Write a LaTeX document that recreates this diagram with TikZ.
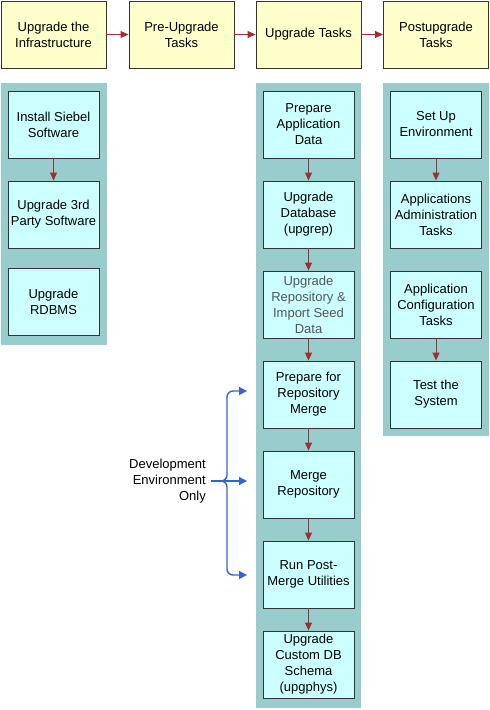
\documentclass[tikz,border=0pt]{standalone}
\usepackage{fontspec}
\setmainfont{Liberation Sans}
\usetikzlibrary{arrows.meta,calc}
\definecolor{hdrfill}{HTML}{FFFFCC}
\definecolor{panelfill}{HTML}{99CCCC}
\definecolor{taskfill}{HTML}{CCFFFF}
\definecolor{edgecol}{HTML}{333333}
\definecolor{arrowcol}{HTML}{993333}
\definecolor{bracecol}{HTML}{3366CC}
\definecolor{greytext}{HTML}{555555}
\tikzset{
  hdr/.style={draw=edgecol, fill=hdrfill, line width=0.9pt, minimum width=105pt, minimum height=67pt, inner sep=0pt, align=center, font=\fontsize{13}{16}\selectfont},
  panel/.style={fill=panelfill, draw=none},
  task/.style={draw=edgecol, fill=taskfill, line width=0.9pt, minimum width=91pt, minimum height=67pt, inner sep=0pt, align=center, font=\fontsize{13}{16}\selectfont},
  flow/.style={draw=arrowcol, line width=1pt, -{Triangle[length=8pt,width=7pt]}},
  bl/.style={draw=bracecol, line width=1.4pt},
  blarrow/.style={bl, -{Triangle[length=8pt,width=8pt]}}
}
\begin{document}
\begin{tikzpicture}[x=1pt,y=-1pt]
\useasboundingbox (0,0) rectangle (490,710);
% panels
\fill[panel] (1,83) rectangle (107,345);
\fill[panel] (256,83) rectangle (361,708);
\fill[panel] (383,83) rectangle (489,436);
% header boxes
\node[hdr] (h1) at (53.5,34.5) {Upgrade the\\Infrastructure};
\node[hdr] (h2) at (181.5,34.5) {Pre-Upgrade\\Tasks};
\node[hdr] (h3) at (308.5,34.5) {Upgrade Tasks};
\node[hdr] (h4) at (436,34.5) {Postupgrade\\Tasks};
\draw[flow] (h1) -- (h2);
\draw[flow] (h2) -- (h3);
\draw[flow] (h3) -- (h4);
% left column
\node[task] (l1) at (53.5,124.5) {Install Siebel\\Software};
\node[task] (l2) at (53.5,214.5) {Upgrade 3rd\\Party Software};
\node[task] (l3) at (53.5,302) {Upgrade\\RDBMS};
\draw[flow] (l1) -- (l2);
% middle column
\node[task] (m1) at (308.5,124.5) {Prepare\\Application\\Data};
\node[task] (m2) at (308.5,214.5) {Upgrade\\Database\\(upgrep)};
\node[task, text=greytext] (m3) at (308.5,304.5) {Upgrade\\Repository \&\\Import Seed\\Data};
\node[task] (m4) at (308.5,394.5) {Prepare for\\Repository\\Merge};
\node[task] (m5) at (308.5,484.5) {Merge\\Repository};
\node[task] (m6) at (308.5,574.5) {Run Post-\\Merge Utilities};
\node[task] (m7) at (308.5,664.5) {Upgrade\\Custom DB\\Schema\\(upgphys)};
\draw[flow] (m1) -- (m2);
\draw[flow] (m2) -- (m3);
\draw[flow] (m3) -- (m4);
\draw[flow] (m4) -- (m5);
\draw[flow] (m5) -- (m6);
\draw[flow] (m6) -- (m7);
% right column
\node[task] (r1) at (436,124.5) {Set Up\\Environment};
\node[task] (r2) at (436,214.5) {Applications\\Administration\\Tasks};
\node[task] (r3) at (436,304.5) {Application\\Configuration\\Tasks};
\node[task] (r4) at (436,394.5) {Test the\\System};
\draw[flow] (r1) -- (r2);
\draw[flow] (r3) -- (r4);
% brace
\node[anchor=east, align=right, inner sep=0pt, font=\fontsize{13}{16}\selectfont] (dev) at (206,481) {Development\\Environment\\Only};
\coordinate (bp) at (223,481);
\coordinate (ta) at (247,391);
\coordinate (ma) at (247,481);
\coordinate (ba) at (247,575);
\coordinate (tv) at (227,391);
\coordinate (bv) at (227,575);
\draw[blarrow] ($(dev.east)+(5,0)$) -- (ma);
\draw[blarrow, rounded corners=6pt] (bp) -| (tv) -- (ta);
\draw[blarrow, rounded corners=6pt] (bp) -| (bv) -- (ba);
\end{tikzpicture}
\end{document}
